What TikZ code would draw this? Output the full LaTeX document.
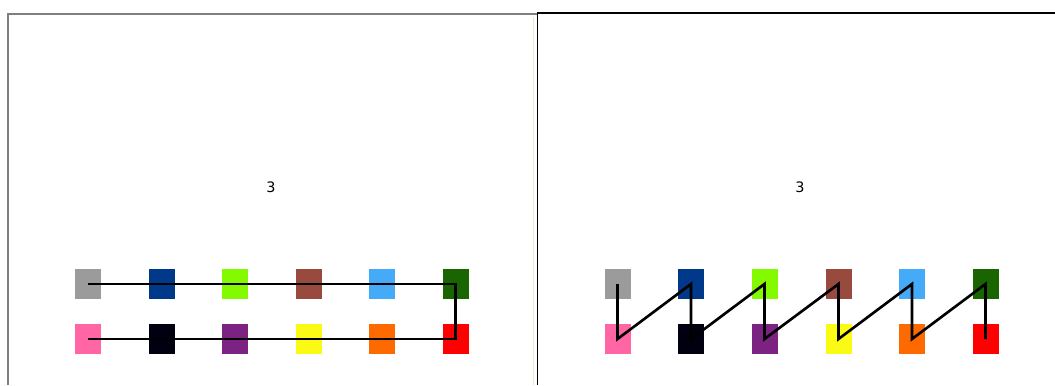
\documentclass[tikz,border=0pt]{standalone}
\usepackage{fontspec}
\setsansfont{DejaVu Sans}
\usetikzlibrary{positioning}

\definecolor{cgray}{HTML}{9B9B9B}
\definecolor{cnavy}{HTML}{00388A}
\definecolor{clime}{HTML}{84FA00}
\definecolor{cbrown}{HTML}{984A3E}
\definecolor{csky}{HTML}{45AAF8}
\definecolor{cforest}{HTML}{196500}
\definecolor{cpink}{HTML}{FF66A3}
\definecolor{cink}{HTML}{000010}
\definecolor{cplum}{HTML}{7C2282}
\definecolor{cyell}{HTML}{FAFA14}
\definecolor{corange}{HTML}{FF6A00}
\definecolor{cred}{HTML}{FF0000}
\definecolor{cpanel}{HTML}{7F7F7F}
\definecolor{cseam}{HTML}{EFE4CF}

\begin{document}
\begin{tikzpicture}[line width=1.5pt,
    sq/.style={minimum width=0.52cm, minimum height=0.6cm, inner sep=0pt, draw=none},
    lbl/.style={font=\sffamily\fontsize{8.2}{9}\selectfont, inner sep=1pt}]
  \useasboundingbox (0,0) rectangle (21.1,7.7);

  % panel frames
  \draw[cpanel, line width=0.9pt] (0.16,0) -- (0.16,7.42) -- (10.74,7.42);
  \draw[cseam, line width=0.5pt] (10.66,0) -- (10.66,7.36);
  \draw[black, line width=0.9pt] (10.75,0) -- (10.75,7.44) -- (21.1,7.44);

  % left panel
  \node[lbl] (numL) at (5.42,3.96) {3};
  \node[sq, fill=cgray]   (lt1) at (1.76,2.02) {};
  \node[sq, fill=cnavy]   (lt2) at (3.23,2.02) {};
  \node[sq, fill=clime]   (lt3) at (4.70,2.02) {};
  \node[sq, fill=cbrown]  (lt4) at (6.17,2.02) {};
  \node[sq, fill=csky]    (lt5) at (7.64,2.02) {};
  \node[sq, fill=cforest] (lt6) at (9.11,2.02) {};
  \node[sq, fill=cpink]   (lb1) at (1.76,0.92) {};
  \node[sq, fill=cink]    (lb2) at (3.23,0.92) {};
  \node[sq, fill=cplum]   (lb3) at (4.70,0.92) {};
  \node[sq, fill=cyell]   (lb4) at (6.17,0.92) {};
  \node[sq, fill=corange] (lb5) at (7.64,0.92) {};
  \node[sq, fill=cred]    (lb6) at (9.11,0.92) {};
  \draw (lt1.center) -- (lt6.center) -- (lb6.center) -- (lb1.center);

  % right panel
  \node[lbl] (numR) at (16.0,3.96) {3};
  \node[sq, fill=cgray]   (rt1) at (12.35,2.02) {};
  \node[sq, fill=cnavy]   (rt2) at (13.82,2.02) {};
  \node[sq, fill=clime]   (rt3) at (15.29,2.02) {};
  \node[sq, fill=cbrown]  (rt4) at (16.77,2.02) {};
  \node[sq, fill=csky]    (rt5) at (18.24,2.02) {};
  \node[sq, fill=cforest] (rt6) at (19.71,2.02) {};
  \node[sq, fill=cpink]   (rb1) at (12.35,0.92) {};
  \node[sq, fill=cink]    (rb2) at (13.82,0.92) {};
  \node[sq, fill=cplum]   (rb3) at (15.29,0.92) {};
  \node[sq, fill=cyell]   (rb4) at (16.77,0.92) {};
  \node[sq, fill=corange] (rb5) at (18.24,0.92) {};
  \node[sq, fill=cred]    (rb6) at (19.71,0.92) {};
  \draw (rt1.center) -- (rb1.center) -- (rt2.center) -- (rb2.center)
    -- (rt3.center) -- (rb3.center) -- (rt4.center) -- (rb4.center)
    -- (rt5.center) -- (rb5.center) -- (rt6.center) -- (rb6.center);
\end{tikzpicture}
\end{document}
